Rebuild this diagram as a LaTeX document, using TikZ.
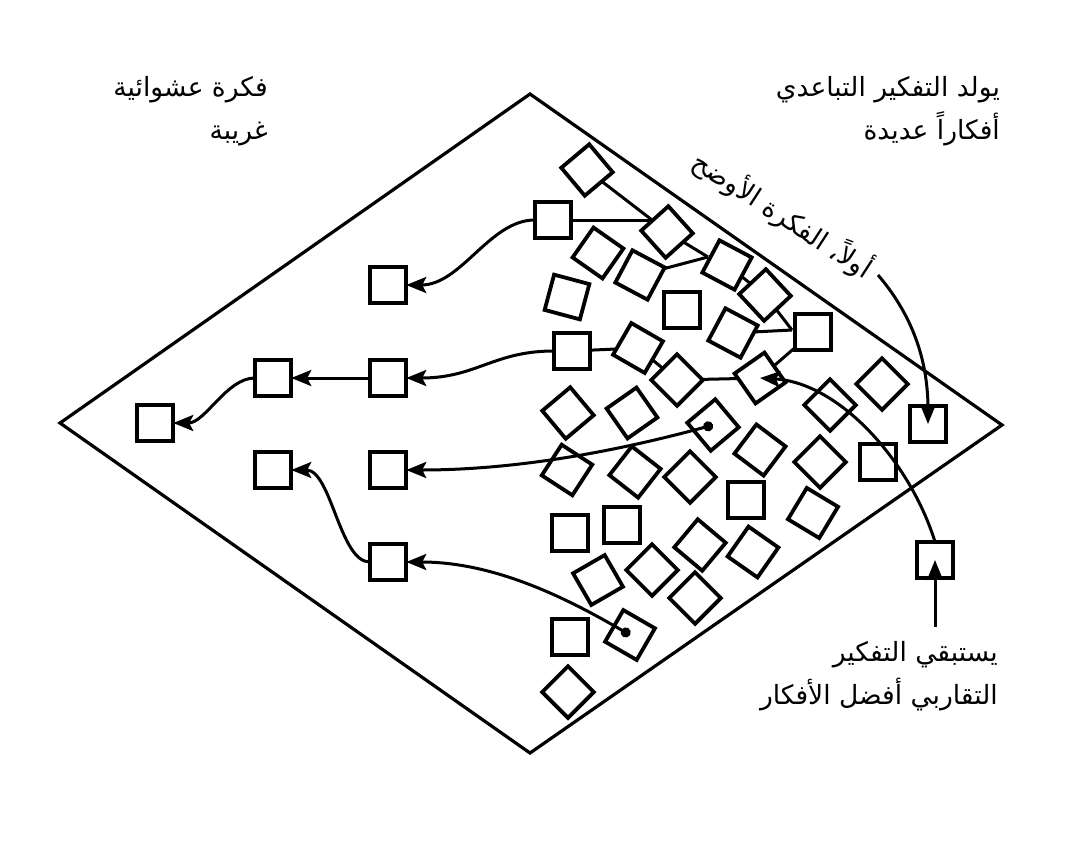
\documentclass[tikz,border=0pt]{standalone}
\usepackage{fontspec}
\newfontfamily\arabicfont[Script=Arabic]{DejaVu Sans}
\TeXXeTstate=1
\usetikzlibrary{arrows.meta}
\tikzset{
    idea/.style={draw,line width=3.8pt,minimum size=36.5pt,inner sep=0pt,outer sep=0pt},
    outline/.style={line width=3.2pt,line join=miter},
    link/.style={line width=3pt},
    arr/.style={-{Stealth[length=20pt,width=16pt,inset=4pt]},line width=3pt},
    dotarr/.style={{Circle[length=10pt]}-{Stealth[length=20pt,width=16pt,inset=4pt]},line width=3pt},
    caption/.style={font=\arabicfont\fontsize{26.5}{43}\selectfont,align=right,inner sep=0pt},
}

\begin{document}
\begin{tikzpicture}[x=1pt,y=-1pt]
    \useasboundingbox (0,0) rectangle (1080,847);
    \draw[outline] (60,423) -- (530,94) -- (1002,425) -- (530,753) -- cycle;
    % upright ideas
    \foreach \n/\x/\y in {u1/553/220,u2/682/310,u3/813/332,u4/572/351,u5/928/424,
        u6/878/462,u7/746/500,u8/570/533,u9/622/525,u10/570/637,u11/935/560,
        l1/388/285,l2/388/378,l3/273/378,l4/155/423,l5/273/470,l6/388/470,l7/388/562}
        \node[idea] (\n) at (\x,\y) {};
    % tilted ideas
    \foreach \n/\x/\y/\a in {r1/587/170/40,r2/667/232/42,r3/598/253/-35,r4/640/275/-28,
        r5/727/265/-28,r6/765/295/43,r7/567/297/-15,r8/733/333/-28,r9/638/348/-30,
        r10/677/380/45,r11/760/378/35,r12/568/413/40,r13/632/413/35,r14/713/425/40,
        r15/830/405/45,r16/882/384/45,r17/760/450/-37,r18/820/462/45,r19/567/470/-33,
        r20/635/472/-38,r21/690/477/45,r22/813/513/-31,r23/700/545/-40,r24/753/552/-35,
        r25/598/580/30,r26/652/570/45,r27/695/598/45,r28/630/635/-30,r29/568/692/45}
        \node[idea,rotate=\a] (\n) at (\x,\y) {};
    % ideas joining
    \coordinate (j1) at (652,220);
    \coordinate (j2) at (708,257);
    \coordinate (j3) at (792,330);
    \draw[link] (r1) -- (j1);
    \draw[link] (u1) -- (j1);
    \draw[link] (r2) -- (j2);
    \draw[link] (r4) -- (j2);
    \draw[link] (r5) -- (r6);
    \draw[link] (r6) -- (j3);
    \draw[link] (r8) -- (j3);
    \draw[link] (u3) -- (r11);
    \draw[link] (u4) -- (r9);
    \draw[link] (r9) -- (r10);
    \draw[link] (r10) -- (r11);
    % picked ideas
    \draw[arr] (u1.west) .. controls +(-45,0) and +(55,0) .. (l1.east);
    \draw[arr] (u4.west) .. controls +(-60,0) and +(70,0) .. (l2.east);
    \draw[arr] (l2.west) -- (l3.east);
    \draw[arr] (l3.west) .. controls +(-28,0) and +(32,0) .. (l4.east);
    \draw[dotarr] (r14.center) .. controls +(-110,30) and +(100,0) .. (l6.east);
    \draw[dotarr] (r28.center) .. controls +(-60,-35) and +(90,0) .. (l7.east);
    \draw[arr] (l7.west) .. controls +(-30,0) and +(40,0) .. (l5.east);
    \coordinate (c1) at (878,275);
    \coordinate (c2) at (935,627);
    \draw[arr] (c1) .. controls +(30,35) and +(0,-70) .. (u5.center);
    \draw[arr] (u11.north) .. controls +(-25,-80) and +(80,5) .. (r11.center);
    \draw[arr] (c2) -- (u11.center);
    % captions
    \node[caption,anchor=north east] (odd) at (268,76) {\beginR فكرة عشوائية\endR\\\beginR غريبة\endR};
    \node[caption,anchor=north east] (diverge) at (1000,76) {\beginR يولد التفكير التباعدي\endR\\\beginR أفكاراً عديدة\endR};
    \node[caption,anchor=north east] (converge) at (998,641) {\beginR يستبقي التفكير\endR\\\beginR التقاربي أفضل الأفكار\endR};
    \node[caption,rotate=-33] (first) at (783,215) {\beginR أولاً، الفكرة الأوضح\endR};
\end{tikzpicture}
\end{document}
